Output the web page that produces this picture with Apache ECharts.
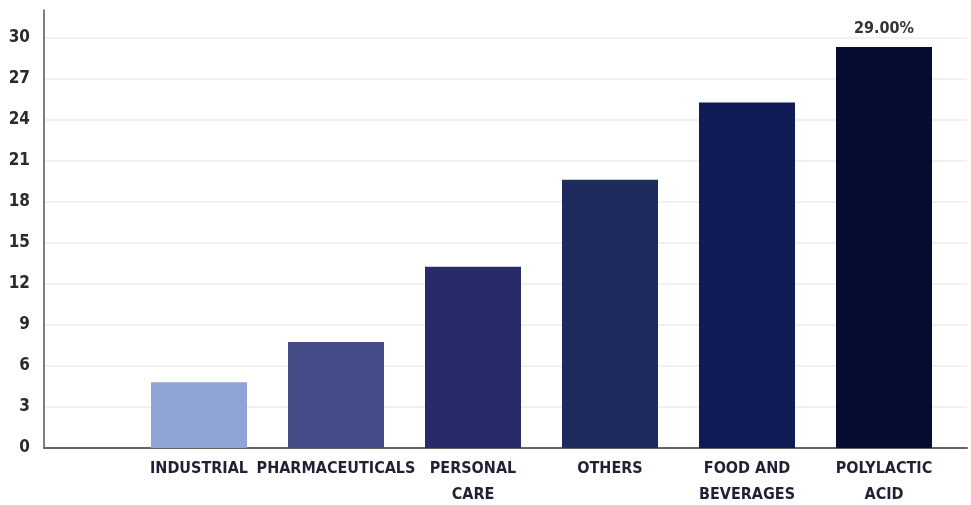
<!DOCTYPE html>
<html>
<head>
<meta charset="utf-8">
<script src="https://cdn.jsdelivr.net/npm/echarts@6/dist/echarts.min.js"></script>
<style>html,body{margin:0;padding:0;background:#fff}#c{width:971px;height:505px}</style>
</head>
<body>
<div id="c"></div>
<script>
const categories = ['INDUSTRIAL', 'PHARMACEUTICALS', 'PERSONAL\nCARE', 'OTHERS', 'FOOD AND\nBEVERAGES', 'POLYLACTIC\nACID'];
const values = [4.8, 7.75, 13.25, 19.6, 25.25, 29.3];
const barColors = ['#8fa3d5', '#454d88', '#272c68', '#1f2b5d', '#111c57', '#040c31'];
const barLabels = ['', '', '', '', '', '29.00%'];
const yTicks = { min: 0, max: 32, interval: 3 };

const FONT = "'DejaVu Sans Condensed', 'Liberation Sans Narrow', sans-serif";
const chart = echarts.init(document.getElementById('c'), null, { renderer: 'canvas' });
chart.setOption({
  animation: false,
  backgroundColor: '#fff',
  grid: [
    { left: 130.5, right: 18.5, top: 10, bottom: 57, outerBoundsMode: 'none', containLabel: false },
    { left: 44, right: 4, top: 10, bottom: 57, outerBoundsMode: 'none', containLabel: false }
  ],
  xAxis: [
    {
      type: 'category', gridIndex: 0, data: categories,
      axisLine: { show: false }, axisTick: { show: false },
      axisLabel: {
        interval: 0, margin: 8, color: '#1f2236', fontFamily: FONT,
        fontWeight: 'bold', fontSize: 16, lineHeight: 26
      }
    },
    {
      type: 'value', gridIndex: 1, min: 0, max: 1,
      axisLine: { show: true, lineStyle: { color: '#666', width: 2 } },
      axisTick: { show: false }, axisLabel: { show: false }, splitLine: { show: false }
    }
  ],
  yAxis: [
    {
      type: 'value', gridIndex: 0, min: yTicks.min, max: yTicks.max, interval: yTicks.interval,
      show: false, splitLine: { show: false }
    },
    {
      type: 'value', gridIndex: 1, min: yTicks.min, max: yTicks.max, interval: yTicks.interval,
      axisLine: { show: true, lineStyle: { color: '#555', width: 1.5 } },
      axisTick: { show: false },
      axisLabel: {
        showMaxLabel: false, margin: 14, color: '#2a2a2a', fontFamily: FONT,
        fontWeight: 'bold', fontSize: 17
      },
      splitLine: { show: true, showMaxLine: false, lineStyle: { color: '#ececec', width: 1.5 } }
    }
  ],
  series: [
    {
      type: 'bar', xAxisIndex: 0, yAxisIndex: 0, barWidth: 96,
      data: values.map((v, i) => ({ value: v, itemStyle: { color: barColors[i] } })),
      label: {
        show: true, position: 'top', distance: 10,
        formatter: p => barLabels[p.dataIndex],
        color: '#333', fontFamily: FONT, fontWeight: 'bold', fontSize: 16
      }
    }
  ]
});
</script>
</body>
</html>
